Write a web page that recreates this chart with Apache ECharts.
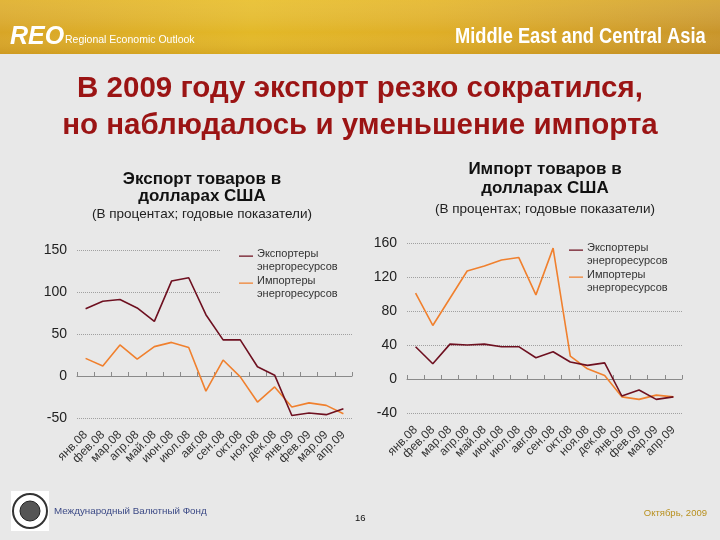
<!DOCTYPE html>
<html>
<head>
<meta charset="utf-8">
<script src="https://cdn.jsdelivr.net/npm/echarts@6/dist/echarts.min.js"></script>
<style>
html,body{margin:0;padding:0;background:#e8e8e8;}
#c{width:720px;height:540px;}
</style>
</head>
<body>
<div id="c"></div>
<script>
var categories = ['янв.08','фев.08','мар.08','апр.08','май.08','июн.08','июл.08','авг.08','сен.08','окт.08','ноя.08','дек.08','янв.09','фев.09','мар.09','апр.09'];
var seriesNames = ['Экспортеры энергоресурсов','Импортеры энергоресурсов'];
// Export (left chart)
var exportExporters = [80, 89, 91, 81, 65, 113, 117, 73, 43, 43, 11, 1, -47, -44, -46, -39];
var exportImporters = [21, 12, 37, 20, 35, 40, 34, -18, 19, -1, -31, -13, -37, -32, -35, -45];
// Import (right chart)
var importExporters = [38, 18, 41, 40, 41, 38, 38, 25, 32, 20, 16, 19, -20, -13, -24, -21];
var importImporters = [101, 63, 95, 127, 133, 140, 143, 99, 154, 27, 12, 4, -21, -24, -19, -21];
var leftTicks = {min: -50, max: 150, interval: 50};
var rightTicks = {min: -40, max: 160, interval: 40};

var colExp = '#6e1020';
var colImp = '#f0802e';
var font = '"Liberation Sans", Arial, sans-serif';

var chart = echarts.init(document.getElementById('c'));

function labelAxis(grid) {
  return {
    type: 'category', gridIndex: grid, data: categories, position: 'bottom',
    boundaryGap: true,
    axisLine: {show: false, onZero: false}, axisTick: {show: false},
    axisLabel: {rotate: 45, interval: 0, fontSize: 12, color: '#333', fontFamily: font, margin: 15}
  };
}
function zeroAxis(grid) {
  return {
    type: 'category', gridIndex: grid, data: categories, position: 'bottom',
    boundaryGap: true,
    axisLine: {show: true, onZero: true, lineStyle: {color: '#8a8a8a', width: 1}},
    axisTick: {show: true, inside: true, length: 4, interval: 0, lineStyle: {color: '#8a8a8a'}},
    axisLabel: {show: false}
  };
}
function valAxis(grid, t) {
  return {
    type: 'value', gridIndex: grid, min: t.min, max: t.max, interval: t.interval,
    axisLine: {show: false}, axisTick: {show: false},
    axisLabel: {fontSize: 14, color: '#222', fontFamily: font, margin: 10},
    splitLine: {show: true, lineStyle: {color: '#a0a0a0', type: 'dotted', width: 1}}
  };
}
function legendFor(idx, left, top) {
  return {
    show: true,
    orient: 'vertical',
    left: left, top: top,
    z: 1,
    data: seriesNames,
    selectedMode: false,
    backgroundColor: '#e8e8e8',
    padding: [2, 18, 2, 18],
    itemGap: 1,
    itemWidth: 14, itemHeight: 14,
    icon: 'path://M0,0H20V2H0Z M0,13H0.1V13.1H0Z',
    formatter: function (n) { return n.replace(' ', '\n'); },
    textStyle: {fontSize: 11, lineHeight: 13, color: '#333', fontFamily: font, padding: [0, 0, 0, -1]}
  };
}

var option = {
  backgroundColor: '#e8e8e8',
  animation: false,
  textStyle: {fontFamily: font},
  title: [
    {text: 'В 2009 году экспорт резко сократился,\nно наблюдалось и уменьшение импорта', left: 'center', top: 65,
     textStyle: {fontSize: 29.5, fontWeight: 'bold', color: '#9b1414', lineHeight: 37, fontFamily: font}},
    {text: 'Экспорт товаров в\nдолларах США', left: 197, top: 166, textAlign: 'center',
     textStyle: {fontSize: 17, fontWeight: 'bold', color: '#111', lineHeight: 17, fontFamily: font}},
    {text: '(В процентах; годовые показатели)', left: 197, top: 202, textAlign: 'center',
     textStyle: {fontSize: 13.5, fontWeight: 'normal', color: '#222', fontFamily: font}},
    {text: 'Импорт товаров в\nдолларах США', left: 540, top: 155, textAlign: 'center',
     textStyle: {fontSize: 17, fontWeight: 'bold', color: '#111', lineHeight: 19, fontFamily: font}},
    {text: '(В процентах; годовые показатели)', left: 540, top: 197, textAlign: 'center',
     textStyle: {fontSize: 13.5, fontWeight: 'normal', color: '#222', fontFamily: font}}
  ],
  legend: [legendFor(0, 221, 245), legendFor(1, 551, 239)],
  grid: [
    {left: 77, right: 368, top: 250, bottom: 122},
    {left: 407, right: 38, top: 243, bottom: 127}
  ],
  xAxis: [labelAxis(0), zeroAxis(0), labelAxis(1), zeroAxis(1)],
  yAxis: [valAxis(0, leftTicks), valAxis(1, rightTicks)],
  series: [
    {name: seriesNames[0], type: 'line', xAxisIndex: 0, yAxisIndex: 0, data: exportExporters,
     symbol: 'none', lineStyle: {color: colExp, width: 1.6}, itemStyle: {color: colExp}, z: 3},
    {name: seriesNames[1], type: 'line', xAxisIndex: 0, yAxisIndex: 0, data: exportImporters,
     symbol: 'none', lineStyle: {color: colImp, width: 1.6}, itemStyle: {color: colImp}, z: 2},
    {name: seriesNames[0], type: 'line', xAxisIndex: 2, yAxisIndex: 1, data: importExporters,
     symbol: 'none', lineStyle: {color: colExp, width: 1.6}, itemStyle: {color: colExp}, z: 3},
    {name: seriesNames[1], type: 'line', xAxisIndex: 2, yAxisIndex: 1, data: importImporters,
     symbol: 'none', lineStyle: {color: colImp, width: 1.6}, itemStyle: {color: colImp}, z: 2}
  ],
  graphic: [
    {type: 'rect', left: 0, top: 0, shape: {width: 720, height: 54}, z: 0,
     style: {fill: new echarts.graphic.LinearGradient(0, 0, 1, 0, [
       {offset: 0, color: '#d8a526'}, {offset: 0.35, color: '#e3b827'}, {offset: 0.6, color: '#dfae26'}, {offset: 1, color: '#c9952a'}])}},
    {type: 'rect', left: 0, top: 0, shape: {width: 720, height: 54}, z: 0,
     style: {fill: new echarts.graphic.LinearGradient(0, 0, 0, 1, [
       {offset: 0, color: 'rgba(255,230,120,0.25)'}, {offset: 0.6, color: 'rgba(255,255,255,0)'}, {offset: 1, color: 'rgba(150,90,0,0.15)'}])}},
    {type: 'text', left: 10, top: 25, z: 5,
     style: {text: 'REO', fill: '#fff', font: 'italic bold 25px "Liberation Sans", Arial, sans-serif'}},
    {type: 'text', left: 65, top: 35, z: 5,
     style: {text: 'Regional Economic Outlook', fill: '#fff', font: '10.5px "Liberation Sans", Arial, sans-serif'}},
    {type: 'text', x: 455, y: 26, scaleX: 0.83, z: 5,
     style: {text: 'Middle East and Central Asia', fill: '#fff', font: 'bold 22px "Liberation Sans", Arial, sans-serif'}},
    {type: 'rect', left: 11, top: 491, shape: {width: 38, height: 40}, z: 5, style: {fill: '#ffffff'}},
    {type: 'circle', shape: {cx: 30, cy: 511, r: 17}, z: 6, style: {fill: '#fff', stroke: '#333', lineWidth: 2}},
    {type: 'circle', shape: {cx: 30, cy: 511, r: 10}, z: 6, style: {fill: '#555', stroke: '#222', lineWidth: 1}},
    {type: 'text', left: 54, top: 506, z: 5,
     style: {text: 'Международный Валютный Фонд', fill: '#3c4a86', font: '9.8px "Liberation Sans", Arial, sans-serif'}},
    {type: 'text', left: 355, top: 513, z: 5,
     style: {text: '16', fill: '#111', font: '9.5px "Liberation Sans", Arial, sans-serif'}},
    {type: 'text', right: 13, top: 508, z: 5,
     style: {text: 'Октябрь, 2009', fill: '#b8901e', font: '9.5px "Liberation Sans", Arial, sans-serif'}}
  ]
};
chart.setOption(option);
</script>
</body>
</html>
